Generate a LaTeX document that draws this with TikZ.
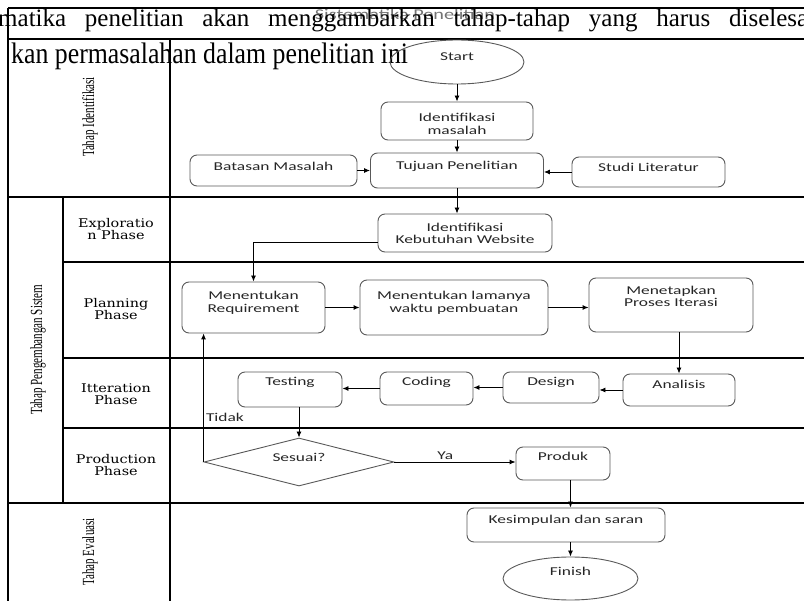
\documentclass[tikz,border=0pt]{standalone}
\usepackage{fontspec}
\setmainfont{Liberation Serif}
\newfontfamily\boxfont[FakeStretch=1.45]{Carlito}
\newfontfamily\titlefont[FakeStretch=1.35]{Carlito}
\newfontfamily\phasefont[FakeStretch=1.2]{DejaVu Serif}
\newfontfamily\tahapfont[FakeStretch=0.65]{Liberation Serif}
\usetikzlibrary{arrows.meta,shapes.geometric}

\begin{document}
\begin{tikzpicture}[x=1pt, y=-1pt,
    lane/.style={line width=1.2pt},
    box/.style={draw=black!65, line width=0.9pt, rounded corners=7pt, inner sep=2pt,
        align=center, text=black!85, text height=8pt,
        font=\boxfont\fontsize{12}{12.5}\selectfont},
    twoline/.style={text height=#1},
    term/.style={box, ellipse, rounded corners=0pt, inner sep=1pt},
    ask/.style={box, diamond, aspect=4, rounded corners=0pt, inner sep=1pt},
    flow/.style={-{Latex[length=6pt,width=5pt]}, line width=0.9pt},
    lbl/.style={text=black!85, inner sep=2pt, font=\boxfont\fontsize{12}{12.5}\selectfont},
    phase/.style={align=center, font=\phasefont\fontsize{12}{12.5}\selectfont},
    tahap/.style={rotate=90, font=\tahapfont\fontsize{17}{17}\selectfont}]
    \def\rightEdge{804}

    \useasboundingbox (0,0) rectangle (\rightEdge,601);

    % the text above the chart
    \node[text=black!55, inner sep=0pt, font=\titlefont\fontsize{15}{15}\selectfont] (title) at (405,14) {Sistematika Penelitian};
    \node[anchor=base west, inner sep=0pt, font=\fontsize{25}{25}\selectfont] (line1) at (-2,27)
        {\makebox[810pt][s]{matika penelitian akan menggambarkan tahap-tahap yang harus diselesa}};
    \node[anchor=base west, inner sep=0pt, yscale=1.15, font=\fontsize{25.8}{25.8}\selectfont] (line2) at (11,64)
        {kan permasalahan dalam penelitian ini};

    % table
    \draw[lane] (8,8) -- (\rightEdge,8);
    \draw[lane] (8,39) -- (\rightEdge,39);
    \draw[lane] (8,8) -- (8,601);
    \draw[lane] (170,39) -- (170,601);
    \draw[lane] (63,197) -- (63,503);
    \foreach \y/\xa in {197/8, 262/63, 358/63, 428/63, 503/8}
        \draw[lane] (\xa,\y) -- (\rightEdge,\y);

    \node[tahap] (tIdent) at (90,117) {Tahap Identifikasi};
    \node[tahap] (tKembang) at (38,350) {Tahap Pengembangan Sistem};
    \node[tahap] (tEval) at (90,552) {Tahap Evaluasi};

    \node[phase] (pExplore) at (116,229) {Exploratio\\n Phase};
    \node[phase] (pPlan) at (116,309) {Planning\\Phase};
    \node[phase] (pIter) at (116,394) {Itteration\\Phase};
    \node[phase] (pProd) at (116,465) {Production\\Phase};

    % flow chart
    \node[term, minimum width=134pt, minimum height=44pt, text depth=10pt] (start) at (457,62) {Start};
    \node[box, twoline=26.5pt, minimum width=152pt, minimum height=38pt, text depth=0pt] (idmasalah) at (457,121) {Identifikasi\\masalah};
    \node[box, minimum width=173pt, minimum height=35pt, text depth=10pt] (tujuan) at (457,170.5) {Tujuan Penelitian};
    \node[box, minimum width=167pt, minimum height=31pt, text depth=7pt] (batasan) at (273.5,170.5) {Batasan Masalah};
    \node[box, minimum width=153pt, minimum height=30pt, text depth=8pt] (studi) at (648.5,172) {Studi Literatur};
    \node[box, twoline=21.5pt, minimum width=174pt, minimum height=38pt, text depth=0pt] (idweb) at (465,233) {Identifikasi\\Kebutuhan Website};
    \node[box, twoline=20.5pt, minimum width=143pt, minimum height=51pt, text depth=11pt] (req) at (253.5,307.5) {Menentukan\\Requirement};
    \node[box, twoline=20.5pt, minimum width=188pt, minimum height=55pt, text depth=11pt] (lama) at (454,307.5) {Menentukan lamanya\\waktu pembuatan};
    \node[box, twoline=20.5pt, minimum width=164pt, minimum height=54pt, text depth=17pt] (tetap) at (671,305) {Menetapkan\\Proses Iterasi};
    \node[box, minimum width=112pt, minimum height=32pt, text depth=10pt] (analisis) at (679,390) {Analisis};
    \node[box, minimum width=96pt, minimum height=31pt, text depth=11pt] (design) at (551,387.5) {Design};
    \node[box, minimum width=93pt, minimum height=33pt, text depth=13pt] (coding) at (426.5,388.5) {Coding};
    \node[box, minimum width=104pt, minimum height=35pt, text depth=15pt] (testing) at (290,389.5) {Testing};
    \node[ask, minimum width=190pt, minimum height=48pt, text depth=8pt] (sesuai) at (299,462) {Sesuai?};
    \node[box, minimum width=94pt, minimum height=33pt, text depth=13pt] (produk) at (563,463.5) {Produk};
    \node[box, minimum width=198pt, minimum height=34pt, text depth=10pt] (simpul) at (566,525) {Kesimpulan dan saran};
    \node[term, minimum width=135pt, minimum height=43pt, text depth=13pt] (finish) at (570.5,578.5) {Finish};

    \draw[flow] (start.south) -- (idmasalah.north);
    \draw[flow] (idmasalah.south) -- (idmasalah.south |- tujuan.north);
    \draw[flow] (batasan.east) -- (batasan.east -| tujuan.west);
    \draw[flow] (studi.west) -- (studi.west -| tujuan.east);
    \draw[flow] (tujuan.south) -- (tujuan.south |- idweb.north);
    \draw[flow] ([yshift=-9pt]idweb.west) -| (req.north);
    \draw[flow] (req.east) -- (req.east -| lama.west);
    \draw[flow] (lama.east) -- (lama.east -| tetap.west);
    \draw[flow] (tetap.south -| analisis) -- (analisis.north);
    \draw[flow] (analisis.west) -- (analisis.west -| design.east);
    \draw[flow] (design.west) -- (design.west -| coding.east);
    \draw[flow] (coding.west) -- (coding.west -| testing.east);
    \draw[flow] (sesuai.north |- testing.south) -- (sesuai.north);
    \draw[flow] (sesuai.west) -- (sesuai.west |- req.south)
        node[lbl, pos=0.35, right] (tidak) {Tidak};
    \draw[flow] (sesuai.east) -- (sesuai.east -| produk.west)
        node[lbl, pos=0.42, above] (ya) {Ya};
    \draw[flow] (finish |- produk.south) -- (finish |- simpul.north);
    \draw[flow] (finish |- simpul.south) -- (finish.north);
\end{tikzpicture}
\end{document}
